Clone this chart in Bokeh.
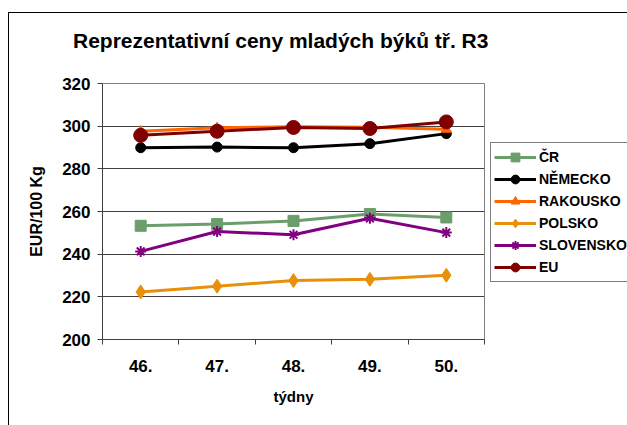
from bokeh.plotting import figure
from bokeh.layouts import row, column
from bokeh.models import Range1d, FixedTicker, Legend, LegendItem, Div
from bokeh.embed import file_html
from bokeh.resources import INLINE

title_text = "Reprezentativní ceny mladých býků tř. R3"
weeks = ["46.", "47.", "48.", "49.", "50."]
cr = [253.3, 254.1, 255.6, 258.8, 257.2]
nemecko = [289.9, 290.2, 289.9, 291.8, 296.5]
rakousko = [297.6, 299.2, 299.7, 299.5, 298.5]
polsko = [222.3, 225.0, 227.6, 228.2, 230.1]
slovensko = [241.3, 250.6, 249.1, 256.8, 250.1]
eu = [295.7, 297.6, 299.4, 298.9, 302.0]
y_ticks = [200, 220, 240, 260, 280, 300, 320]

series = [
    ("ČR", cr, "#6B9E6B", "square", 11),
    ("NĚMECKO", nemecko, "#000000", "circle", 10),
    ("RAKOUSKO", rakousko, "#FF6600", "triangle", 10),
    ("POLSKO", polsko, "#E8900A", "diamond", 14),
    ("SLOVENSKO", slovensko, "#800080", "asterisk", 11),
    ("EU", eu, "#800000", "circle", 14),
]

FONT = "Liberation Sans"
xs = list(range(1, len(weeks) + 1))

title_div = Div(
    text=('<div style="font-family:\'Liberation Sans\';font-weight:bold;font-size:21px;'
          'line-height:24px;padding:16px 0 0 64px;white-space:nowrap;color:black">'
          + title_text + '</div>'),
    width=618, height=50, margin=0)

p = figure(width=476, height=362, output_backend="svg", toolbar_location=None,
           x_range=Range1d(0.5, len(weeks) + 0.5),
           y_range=Range1d(y_ticks[0], y_ticks[-1]),
           min_border_left=93, min_border_right=1, min_border_top=20, min_border_bottom=86)

p.outline_line_color = "#808080"
p.background_fill_color = "white"
p.border_fill_color = "white"

p.xgrid.visible = False
p.ygrid.grid_line_color = "#404040"
p.ygrid.grid_line_width = 1
p.yaxis.ticker = FixedTicker(ticks=y_ticks)

half = [i - 0.5 for i in xs] + [xs[-1] + 0.5]
p.xaxis.ticker = FixedTicker(ticks=xs, minor_ticks=half)
p.xaxis.major_label_overrides = {i: w for i, w in zip(xs, weeks)}
p.xaxis.major_tick_out = 0
p.xaxis.major_tick_in = 0
p.xaxis.minor_tick_out = 5
p.xaxis.minor_tick_in = 0
p.xaxis.minor_tick_line_color = "#404040"
p.xaxis.major_label_standoff = 15
p.xaxis.axis_label = "týdny"
p.xaxis.axis_label_standoff = 13

p.yaxis.major_tick_out = 5
p.yaxis.major_tick_in = 0
p.yaxis.minor_tick_out = 0
p.yaxis.minor_tick_in = 0
p.yaxis.major_label_standoff = 7
p.yaxis.axis_label = "EUR/100 Kg"
p.yaxis.axis_label_standoff = 14

for ax in (p.xaxis[0], p.yaxis[0]):
    ax.axis_line_color = "#404040"
    ax.major_tick_line_color = "#404040"
    ax.major_label_text_font = FONT
    ax.major_label_text_font_size = "17px"
    ax.major_label_text_font_style = "bold"
    ax.major_label_text_color = "black"
    ax.axis_label_text_font = FONT
    ax.axis_label_text_font_style = "bold"
    ax.axis_label_text_color = "black"
p.xaxis.axis_label_text_font_size = "15px"
p.yaxis.axis_label_text_font_size = "16px"

# legend panel: a second canvas holding the legend (frame aligned with p's frame)
q = figure(width=142, height=362, output_backend="svg", toolbar_location=None,
           x_range=Range1d(100, 101), y_range=Range1d(0, 1),
           x_axis_location=None, y_axis_location=None,
           min_border_left=0, min_border_right=0, min_border_top=20, min_border_bottom=86)
q.outline_line_color = None
q.grid.visible = False
q.background_fill_color = "white"
q.border_fill_color = "white"

items = []
for name, vals, color, marker, size in series:
    p.line(xs, vals, line_color=color, line_width=3)
    p.scatter(xs, vals, marker=marker, size=size, fill_color=color,
              line_color=color, line_width=2 if marker == "asterisk" else 1)
    ln = q.line(xs, vals, line_color=color, line_width=3)
    sc = q.scatter(xs, vals, marker=marker, size=size, fill_color=color,
                   line_color=color, line_width=2 if marker == "asterisk" else 1)
    items.append(LegendItem(label=name, renderers=[ln, sc]))

legend = Legend(items=items, location=(5, 57))
legend.label_text_font = FONT
legend.label_text_font_size = "14px"
legend.label_text_font_style = "bold"
legend.label_text_color = "black"
legend.glyph_width = 42
legend.glyph_height = 22
legend.label_height = 22
legend.spacing = 0
legend.padding = 3
legend.margin = 0
legend.label_standoff = 3
legend.border_line_color = "black"
legend.border_line_width = 1
legend.background_fill_alpha = 1
q.add_layout(legend, "center")

layout = column(title_div, row(p, q, spacing=0), spacing=0)
layout.styles = {"margin-left": "8px", "margin-top": "12px",
                 "border-left": "1px solid black", "border-top": "1px solid black"}

open("out.html", "w").write(file_html(layout, INLINE))
